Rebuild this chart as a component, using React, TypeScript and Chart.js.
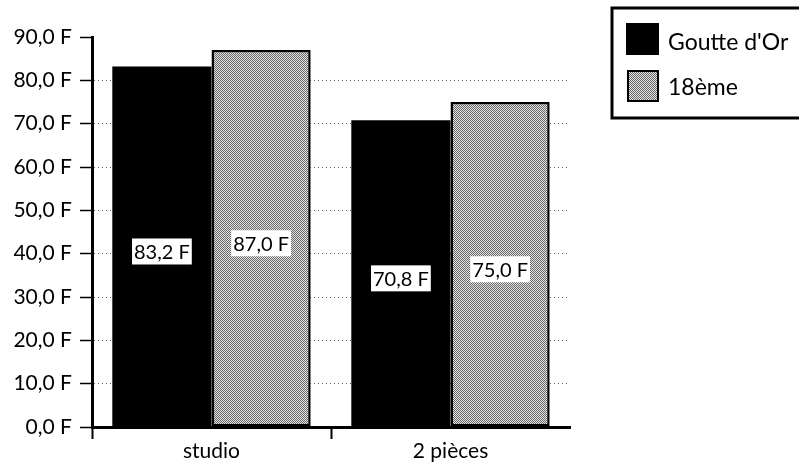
import React, { useEffect, useRef } from "react";
import { Chart, registerables } from "chart.js";

Chart.register(...registerables);

const categories = ["studio", "2 pièces"];
const seriesNames = ["Goutte d'Or", "18ème"];
const goutteDOr = [83.2, 70.8];
const dixHuitieme = [87.0, 75.0];
const yTicks = [0, 10, 20, 30, 40, 50, 60, 70, 80, 90];

const FONT = "Lato, 'Open Sans', sans-serif";

function fmt(v: number): string {
  return v.toFixed(1).replace(".", ",") + " F";
}

function makePattern(): CanvasPattern | string {
  const c = document.createElement("canvas");
  c.width = 2;
  c.height = 2;
  const g = c.getContext("2d");
  if (!g) return "#aaa";
  g.fillStyle = "#e2e2e2";
  g.fillRect(0, 0, 2, 2);
  g.fillStyle = "#6a6a6a";
  g.fillRect(0, 0, 1, 1);
  g.fillRect(1, 1, 1, 1);
  const p = g.createPattern(c, "repeat");
  return p || "#aaa";
}

export default function App() {
  const ref = useRef<HTMLCanvasElement>(null);

  useEffect(() => {
    if (!ref.current) return;
    const pattern = makePattern();

    const valueLabels = {
      id: "valueLabels",
      afterDatasetsDraw(chart: any) {
        const ctx = chart.ctx;
        ctx.save();
        ctx.font = `20px ${FONT}`;
        ctx.textAlign = "center";
        ctx.textBaseline = "middle";
        chart.data.datasets.forEach((ds: any, di: number) => {
          const meta = chart.getDatasetMeta(di);
          meta.data.forEach((bar: any, i: number) => {
            const v = ds.data[i] as number;
            const txt = fmt(v);
            const cx = bar.x;
            const cy = (bar.y + bar.base) / 2 + 5;
            const w = ctx.measureText(txt).width + 4;
            const h = 26;
            ctx.fillStyle = "#fff";
            ctx.fillRect(cx - w / 2, cy - h / 2, w, h);
            ctx.fillStyle = "#000";
            ctx.fillText(txt, cx, cy + 1);
          });
        });
        ctx.restore();
      },
    };

    const legendBox = {
      id: "legendBox",
      afterDraw(chart: any) {
        const ctx = chart.ctx;
        ctx.save();
        ctx.strokeStyle = "#000";
        ctx.lineWidth = 3;
        ctx.strokeRect(612, 8, 200, 110);
        // swatches
        ctx.fillStyle = "#000";
        ctx.fillRect(626, 23, 33, 32);
        ctx.fillStyle = pattern as any;
        ctx.fillRect(627, 70, 32, 32);
        ctx.lineWidth = 2;
        ctx.strokeRect(628, 71, 30, 30);
        ctx.fillStyle = "#000";
        ctx.font = `23px ${FONT}`;
        ctx.textAlign = "left";
        ctx.textBaseline = "middle";
        ctx.fillText(seriesNames[0], 668, 43);
        ctx.fillText(seriesNames[1], 668, 88);
        ctx.restore();
      },
    };

    const chart = new Chart(ref.current, {
      type: "bar",
      data: {
        labels: categories,
        datasets: [
          {
            label: seriesNames[0],
            data: goutteDOr,
            backgroundColor: "#000",
            borderColor: "#000",
            borderWidth: 0,
            categoryPercentage: 0.83,
            barPercentage: 1.0,
          },
          {
            label: seriesNames[1],
            data: dixHuitieme,
            backgroundColor: pattern as any,
            borderColor: "#000",
            borderWidth: 2.5,
            borderSkipped: false,
            categoryPercentage: 0.83,
            barPercentage: 1.0,
          },
        ],
      },
      options: {
        animation: false,
        responsive: false,
        devicePixelRatio: 1,
        layout: { padding: { top: 37, right: 229, left: 0, bottom: 0 } },
        plugins: {
          legend: { display: false },
          tooltip: { enabled: false },
        },
        scales: {
          x: {
            type: "category",
            offset: true,
            afterFit(scale: any) {
              scale.height = 36;
            },
            grid: {
              offset: true,
              drawOnChartArea: false,
              drawTicks: true,
              tickLength: 12,
              tickWidth: 2,
              tickColor: (c: any) =>
                c.index === undefined || c.index >= 2 ? "rgba(0,0,0,0)" : "#000",
            },
            border: { display: true, color: "#000", width: 3 },
            ticks: {
              color: "#000",
              font: { family: FONT, size: 21 },
              padding: 0,
            },
          },
          y: {
            min: 0,
            max: 90,
            afterFit(scale: any) {
              scale.width = 92;
            },
            afterBuildTicks(scale: any) {
              scale.ticks = yTicks.map((v) => ({ value: v }));
            },
            grid: {
              color: (c: any) =>
                c.tick && (c.tick.value === 90 || c.tick.value === 0)
                  ? "rgba(0,0,0,0)"
                  : "#666",
              lineWidth: 1,
              drawTicks: true,
              tickLength: 12,
              tickWidth: 1.5,
              tickColor: "#000",
              tickBorderDash: [],
            },
            border: { display: true, color: "#000", width: 3, dash: [1, 3] },
            ticks: {
              color: "#000",
              font: { family: FONT, size: 21 },
              padding: 8,
              callback: (v: any) => fmt(Number(v)),
            },
          },
        },
      },
      plugins: [valueLabels, legendBox],
    });

    return () => chart.destroy();
  }, []);

  return (
    <div style={{ position: "fixed", left: 0, top: 0, width: 799, height: 463, background: "#fff" }}>
      <canvas ref={ref} width={799} height={463} style={{ display: "block" }} />
    </div>
  );
}
